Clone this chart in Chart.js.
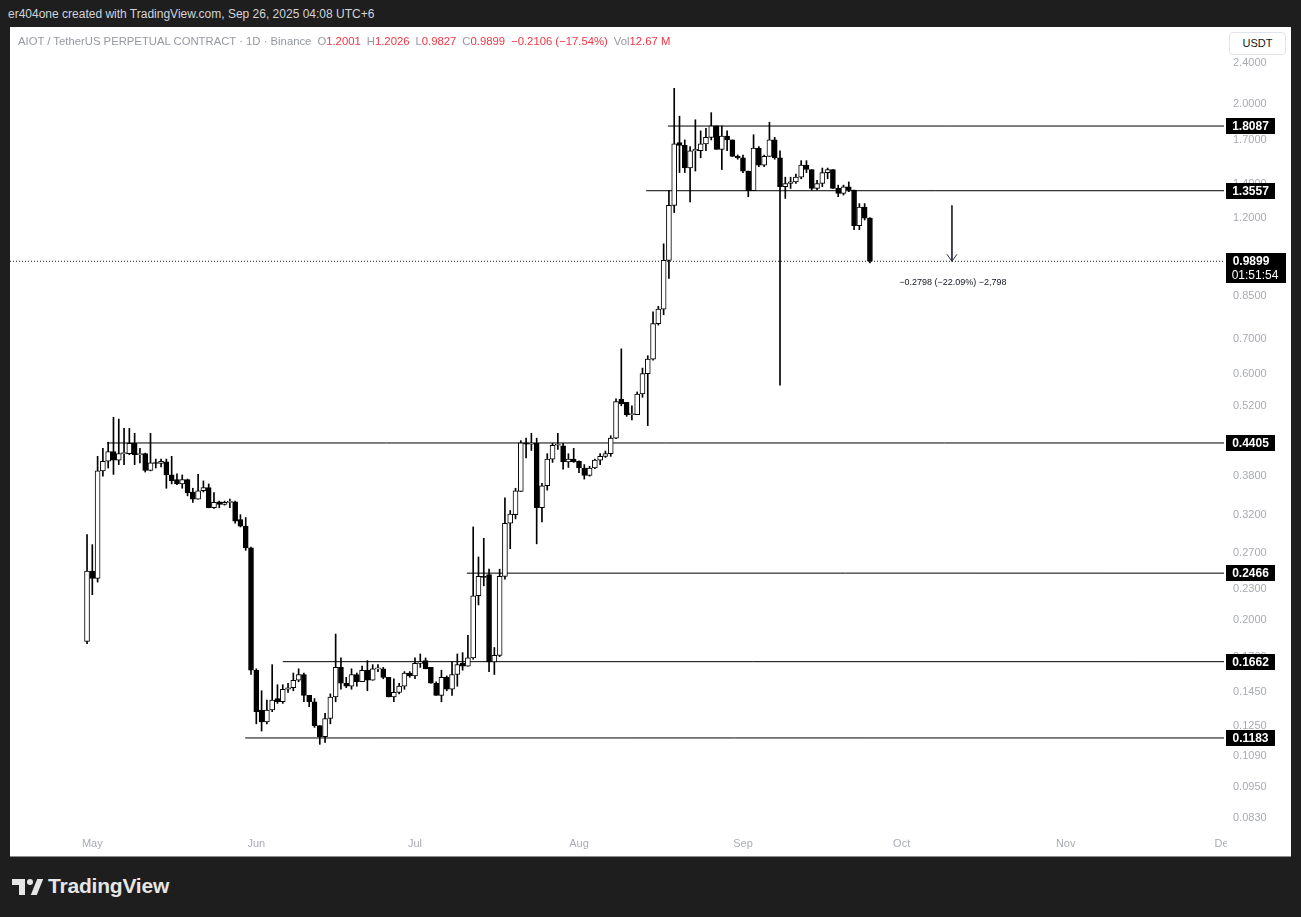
<!DOCTYPE html>
<html>
<head>
<meta charset="utf-8">
<title>AIOT / TetherUS PERPETUAL CONTRACT</title>
<script src="https://cdn.jsdelivr.net/npm/chart.js@4.4.1/dist/chart.umd.min.js"></script>
<style>
  html, body { margin: 0; padding: 0; width: 1301px; height: 917px; overflow: hidden; background: #1e1e1e; font-family: "Liberation Sans", Arial, sans-serif; }
  .top-note { position: absolute; left: 8px; top: 7px; color: #d1d4dc; font-size: 12px; }
  .panel { position: absolute; left: 10px; top: 27px; width: 1281px; height: 829px; background: #fff; border-bottom: 1px solid #8c8c8c; }
  #chart { position: absolute; left: 0; top: 0; }
  .legend { position: absolute; left: 8px; top: 8px; font-size: 11.3px; color: #9598a1; white-space: pre; }
  .legend .v { color: #f23645; }
  .legend .g { margin-left: 6px; }
  .usdt { position: absolute; left: 1219px; top: 5px; width: 57px; height: 23px; background: #fff; border: 1px solid #e0e3eb; border-radius: 4px; box-sizing: border-box; font-size: 11px; color: #131722; text-align: center; line-height: 21px; }
  .footer { position: absolute; left: 12px; top: 876px; height: 22px; }
  .footer .bar { position: absolute; left: 0; top: 3px; width: 13px; height: 6px; background: #e6e6e6; }
  .footer .stem { position: absolute; left: 7px; top: 3px; width: 6px; height: 16px; background: #e6e6e6; }
  .footer .dot { position: absolute; left: 15px; top: 3px; width: 6px; height: 6px; border-radius: 50%; background: #e6e6e6; }
  .footer .slant { position: absolute; left: 22px; top: 3px; width: 6px; height: 16px; background: #e6e6e6; transform: skewX(-22deg); }
  .footer .word { position: absolute; left: 36px; top: -2px; font-size: 21px; font-weight: bold; color: #e6e6e6; letter-spacing: -0.2px; }
</style>
</head>
<body>
<div class="top-note">er404one created with TradingView.com, Sep 26, 2025 04:08 UTC+6</div>
<div class="panel">
  <canvas id="chart" width="1281" height="829"></canvas>
  <div class="legend">AIOT / TetherUS PERPETUAL CONTRACT · 1D · Binance<span class="g">O<span class="v">1.2001</span></span><span class="g">H<span class="v">1.2026</span></span><span class="g">L<span class="v">0.9827</span></span><span class="g">C<span class="v">0.9899</span></span><span class="g v">−0.2106 (−17.54%)</span><span class="g">Vol<span class="v">12.67 M</span></span></div>
  <div class="usdt">USDT</div>
</div>
<div class="footer"><div class="bar"></div><div class="stem"></div><div class="dot"></div><div class="slant"></div><div class="word">TradingView</div></div>

<script>
// daily candles, Apr 30 .. Sep 25 2025 (index = days since Apr 30)
const opens = [
  0.182, 0.249, 0.241, 0.389, 0.406, 0.424, 0.408, 0.420, 0.420, 0.440,
  0.418, 0.420, 0.390, 0.403, 0.402, 0.405, 0.382, 0.374, 0.367, 0.374,
  0.354, 0.343, 0.356, 0.361, 0.330, 0.339, 0.335, 0.338, 0.339, 0.313,
  0.304, 0.276, 0.160, 0.134, 0.127, 0.134, 0.141, 0.139, 0.147, 0.148,
  0.153, 0.157, 0.143, 0.139, 0.125, 0.119, 0.129, 0.142, 0.162, 0.151,
  0.149, 0.157, 0.152, 0.160, 0.153, 0.161, 0.161, 0.155, 0.142, 0.145,
  0.149, 0.158, 0.156, 0.165, 0.167, 0.162, 0.151, 0.143, 0.155, 0.147,
  0.157, 0.165, 0.163, 0.169, 0.223, 0.243, 0.245, 0.166, 0.171, 0.243,
  0.308, 0.320, 0.355, 0.441, 0.438, 0.440, 0.330, 0.364, 0.410, 0.436,
  0.435, 0.405, 0.410, 0.406, 0.394, 0.381, 0.394, 0.408, 0.415, 0.420,
  0.450, 0.535, 0.528, 0.500, 0.500, 0.548, 0.600, 0.640, 0.750, 0.800,
  0.994, 1.270, 1.680, 1.660, 1.500, 1.620, 1.620, 1.670, 1.720, 1.810,
  1.630, 1.730, 1.700, 1.580, 1.570, 1.480, 1.356, 1.640, 1.520, 1.580,
  1.700, 1.570, 1.380, 1.400, 1.410, 1.440, 1.520, 1.490, 1.370, 1.400,
  1.470, 1.490, 1.370, 1.340, 1.380, 1.360, 1.160, 1.260, 1.2001
];
const highs = [
  0.293, 0.280, 0.415, 0.430, 0.442, 0.494, 0.490, 0.470, 0.470, 0.460,
  0.430, 0.421, 0.460, 0.410, 0.410, 0.410, 0.415, 0.384, 0.382, 0.375,
  0.360, 0.383, 0.372, 0.367, 0.353, 0.340, 0.340, 0.343, 0.340, 0.320,
  0.316, 0.277, 0.161, 0.146, 0.140, 0.164, 0.150, 0.150, 0.151, 0.158,
  0.161, 0.158, 0.143, 0.141, 0.125, 0.132, 0.144, 0.188, 0.169, 0.155,
  0.161, 0.158, 0.163, 0.167, 0.164, 0.164, 0.162, 0.155, 0.154, 0.151,
  0.159, 0.159, 0.169, 0.172, 0.169, 0.162, 0.152, 0.160, 0.156, 0.166,
  0.172, 0.173, 0.187, 0.303, 0.265, 0.288, 0.251, 0.177, 0.251, 0.345,
  0.326, 0.360, 0.445, 0.450, 0.460, 0.450, 0.368, 0.420, 0.440, 0.460,
  0.440, 0.420, 0.430, 0.407, 0.400, 0.397, 0.410, 0.420, 0.425, 0.455,
  0.536, 0.670, 0.528, 0.520, 0.553, 0.615, 0.650, 0.790, 0.810, 1.070,
  1.356, 2.140, 1.890, 1.700, 1.650, 1.860, 1.770, 1.790, 1.920, 1.810,
  1.810, 1.770, 1.700, 1.590, 1.590, 1.480, 1.740, 1.650, 1.590, 1.840,
  1.720, 1.620, 1.440, 1.440, 1.460, 1.550, 1.550, 1.490, 1.420, 1.500,
  1.500, 1.490, 1.390, 1.390, 1.410, 1.360, 1.280, 1.280, 1.2026
];
const lows = [
  0.180, 0.224, 0.237, 0.380, 0.394, 0.383, 0.400, 0.400, 0.418, 0.400,
  0.403, 0.387, 0.389, 0.394, 0.396, 0.360, 0.367, 0.366, 0.360, 0.348,
  0.338, 0.343, 0.354, 0.330, 0.329, 0.330, 0.334, 0.330, 0.308, 0.303,
  0.273, 0.157, 0.126, 0.122, 0.126, 0.133, 0.138, 0.138, 0.145, 0.146,
  0.152, 0.139, 0.136, 0.124, 0.115, 0.116, 0.126, 0.139, 0.147, 0.148,
  0.147, 0.149, 0.152, 0.146, 0.153, 0.159, 0.154, 0.142, 0.139, 0.144,
  0.147, 0.155, 0.154, 0.162, 0.161, 0.151, 0.143, 0.139, 0.146, 0.143,
  0.149, 0.160, 0.163, 0.168, 0.214, 0.233, 0.159, 0.157, 0.170, 0.240,
  0.275, 0.314, 0.355, 0.412, 0.426, 0.281, 0.310, 0.357, 0.404, 0.428,
  0.392, 0.395, 0.404, 0.386, 0.375, 0.380, 0.393, 0.400, 0.413, 0.415,
  0.449, 0.520, 0.496, 0.488, 0.500, 0.540, 0.476, 0.637, 0.745, 0.780,
  0.917, 1.230, 1.470, 1.470, 1.290, 1.480, 1.570, 1.620, 1.700, 1.630,
  1.490, 1.620, 1.580, 1.560, 1.470, 1.320, 1.356, 1.510, 1.510, 1.580,
  1.560, 0.570, 1.310, 1.370, 1.400, 1.430, 1.470, 1.360, 1.360, 1.380,
  1.430, 1.370, 1.320, 1.330, 1.350, 1.140, 1.140, 1.190, 0.9827
];
const closes = [
  0.249, 0.241, 0.389, 0.406, 0.424, 0.408, 0.420, 0.422, 0.440, 0.418,
  0.420, 0.390, 0.403, 0.402, 0.406, 0.382, 0.372, 0.367, 0.374, 0.353,
  0.343, 0.356, 0.361, 0.330, 0.338, 0.335, 0.338, 0.339, 0.311, 0.304,
  0.276, 0.160, 0.133, 0.127, 0.134, 0.140, 0.139, 0.147, 0.148, 0.153,
  0.157, 0.143, 0.139, 0.125, 0.119, 0.129, 0.142, 0.162, 0.151, 0.149,
  0.157, 0.152, 0.160, 0.153, 0.161, 0.1615, 0.155, 0.142, 0.145, 0.149,
  0.158, 0.156, 0.165, 0.166, 0.161, 0.151, 0.143, 0.155, 0.147, 0.157,
  0.164, 0.163, 0.169, 0.223, 0.243, 0.242, 0.166, 0.171, 0.243, 0.308,
  0.321, 0.356, 0.441, 0.438, 0.440, 0.330, 0.364, 0.410, 0.436, 0.437,
  0.405, 0.410, 0.405, 0.394, 0.381, 0.394, 0.408, 0.415, 0.420, 0.450,
  0.530, 0.525, 0.500, 0.501, 0.548, 0.600, 0.640, 0.750, 0.800, 0.994,
  1.270, 1.670, 1.660, 1.500, 1.620, 1.630, 1.670, 1.720, 1.810, 1.630,
  1.730, 1.700, 1.580, 1.570, 1.480, 1.356, 1.640, 1.520, 1.580, 1.700,
  1.570, 1.380, 1.400, 1.410, 1.440, 1.520, 1.490, 1.370, 1.400, 1.470,
  1.490, 1.370, 1.340, 1.380, 1.360, 1.160, 1.260, 1.200, 0.9899
];

// month starts (days since Apr 30)
const monthLabels = ['May', 'Jun', 'Jul', 'Aug', 'Sep', 'Oct', 'Nov', 'Dec'];
const monthDays = [1, 32, 62, 93, 124, 154, 185, 215];

const priceTicks = [2.4, 2.0, 1.7, 1.4, 1.2, 0.85, 0.70, 0.60, 0.52, 0.38, 0.32, 0.27, 0.23, 0.20, 0.17, 0.145, 0.125, 0.109, 0.095, 0.083];

// drawn horizontal levels and the day each one starts
const levelValues = [1.8087, 1.3557, 0.4405, 0.2466, 0.1662, 0.1183];
const levelStarts = [109.8, 105.7, 3.8, 71.8, 37, 29.9];

const lastPrice = 0.9899;
const countdown = '01:51:54';

// measure arrow
const arrowDay = 163.5;
const arrowFrom = 1.27;
const arrowTo = 0.99;
const arrowText = '\u22120.2798 (\u221222.09%) \u22122,798';

const xMin = -14.56, xMax = 214.93;
const yMin = 0.0792, yMax = 2.775;

const font = '"Liberation Sans", Arial, sans-serif';
Chart.defaults.font.family = font;

const up = closes.map((c, i) => c >= opens[i]);
const bodies = opens.map((o, i) => ({ x: i, y: [Math.min(o, closes[i]), Math.max(o, closes[i])] }));
const wicks = highs.map((h, i) => ({ x: i, y: [lows[i], h] }));

const datasets = [
  {
    type: 'bar', data: bodies, grouped: false, order: 0,
    barThickness: 5, borderWidth: 1, borderSkipped: false, minBarLength: 1,
    backgroundColor: up.map(u => u ? '#ffffff' : '#000000'),
    borderColor: '#000000'
  },
  {
    type: 'bar', data: wicks, grouped: false, order: 1,
    barThickness: 1, borderWidth: 0, backgroundColor: '#000000'
  },
  {
    type: 'line', order: 2, data: [{ x: xMin, y: lastPrice }, { x: xMax, y: lastPrice }],
    borderColor: '#131722', borderWidth: 1, borderDash: [1, 2], pointRadius: 0
  },
  {
    type: 'line', order: 2, data: [{ x: arrowDay, y: arrowFrom }, { x: arrowDay, y: arrowTo }],
    borderColor: '#2a2e39', borderWidth: 1, pointRadius: 0
  }
];
levelValues.forEach((v, i) => {
  datasets.push({
    type: 'line', order: 2, data: [{ x: levelStarts[i], y: v }, { x: xMax, y: v }],
    borderColor: '#000000', borderWidth: 1, pointRadius: 0
  });
});

const overlay = {
  id: 'overlay',
  afterDraw(chart) {
    const { ctx, chartArea: a, scales: { x, y } } = chart;
    ctx.save();
    // cut the last month label at the price axis edge
    ctx.fillStyle = '#ffffff';
    ctx.fillRect(a.right + 3, a.bottom, chart.width - a.right, chart.height - a.bottom);

    // arrow head + measure text
    const tx = x.getPixelForValue(arrowDay);
    const ty = y.getPixelForValue(arrowTo);
    ctx.strokeStyle = '#2a2e39';
    ctx.lineWidth = 1;
    ctx.beginPath();
    ctx.moveTo(tx - 5, ty - 7);
    ctx.lineTo(tx, ty);
    ctx.lineTo(tx + 5, ty - 7);
    ctx.stroke();
    ctx.fillStyle = '#131722';
    ctx.font = '9px ' + font;
    ctx.textAlign = 'center';
    ctx.textBaseline = 'middle';
    ctx.fillText(arrowText, tx + 1, ty + 21);

    // price labels on the axis
    ctx.font = 'bold 12px ' + font;
    levelValues.forEach(v => {
      const py = Math.round(y.getPixelForValue(v));
      ctx.fillStyle = '#000000';
      ctx.fillRect(a.right + 2, py - 8, 49, 16);
      ctx.fillStyle = '#ffffff';
      ctx.fillText(v.toFixed(4), a.right + 26.5, py + 0.5);
    });
    const lp = Math.round(y.getPixelForValue(lastPrice));
    ctx.fillStyle = '#000000';
    ctx.fillRect(a.right + 2, lp - 8, 60, 30);
    ctx.fillStyle = '#ffffff';
    ctx.fillText(lastPrice.toFixed(4), a.right + 27, lp + 0.5);
    ctx.font = '12px ' + font;
    ctx.fillText(countdown, a.right + 31, lp + 15);
    ctx.restore();
  }
};

function noPad(scale) {
  scale.paddingTop = 0;
  scale.paddingBottom = 0;
  scale.paddingLeft = 0;
  scale.paddingRight = 0;
}

new Chart(document.getElementById('chart'), {
  data: { datasets },
  options: {
    responsive: false,
    animation: false,
    layout: { autoPadding: false, padding: { top: 3, left: 0, right: 0, bottom: 0 } },
    plugins: { legend: { display: false }, tooltip: { enabled: false } },
    scales: {
      x: {
        type: 'linear', min: xMin, max: xMax, offset: false, bounds: 'data',
        grid: { display: false, drawTicks: false },
        border: { display: false },
        afterBuildTicks(scale) { scale.ticks = monthDays.map(v => ({ value: v })); },
        afterFit(scale) { scale.height = 28; noPad(scale); },
        ticks: {
          autoSkip: false, maxRotation: 0, padding: 9, color: '#a9abb3',
          font: { size: 11 },
          callback: (v, i) => monthLabels[i]
        }
      },
      y: {
        type: 'logarithmic', position: 'right', min: yMin, max: yMax, bounds: 'data',
        grid: { display: false, drawTicks: false },
        border: { display: false },
        afterBuildTicks(scale) { scale.ticks = priceTicks.map(v => ({ value: v })); },
        afterFit(scale) { scale.width = 67; noPad(scale); },
        ticks: {
          autoSkip: false, padding: 9, color: '#a9abb3', crossAlign: 'near',
          font: { size: 11 },
          callback: v => Number(v).toFixed(4)
        }
      }
    }
  },
  plugins: [overlay]
});
</script>
</body>
</html>
